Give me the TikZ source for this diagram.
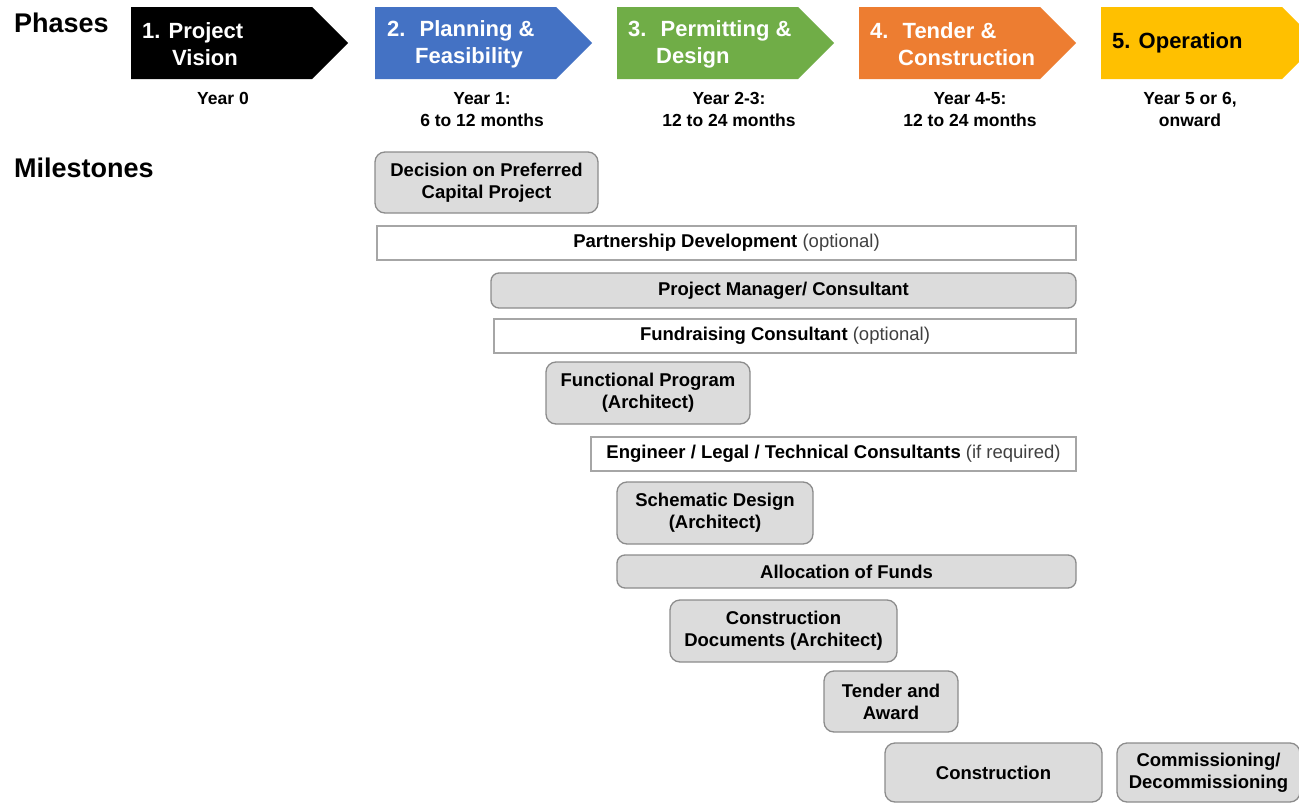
\documentclass[tikz,border=0pt]{standalone}
\usepackage{fontspec}
\setmainfont{Liberation Sans}
\definecolor{pblue}{RGB}{68,114,196}
\definecolor{pgreen}{RGB}{112,173,71}
\definecolor{porange}{RGB}{237,125,49}
\definecolor{pyellow}{RGB}{255,192,0}
\definecolor{boxgray}{RGB}{220,220,220}
\definecolor{boxline}{RGB}{140,140,140}
\definecolor{wline}{RGB}{166,166,166}
\definecolor{opt}{RGB}{64,64,64}
\newcommand{\phasearrow}[2]{\fill[#2] (#1,7) -- ++(181,0) -- ++(36,36) -- ++(-36,36) -- ++(-181,0) -- cycle;}
\tikzset{
 phasetext/.style={anchor=west, inner sep=0pt, align=left, font=\bfseries\fontsize{22}{27}\selectfont, text=white},
 yeartext/.style={anchor=north, inner sep=0pt, align=center, font=\bfseries\fontsize{17.5}{22}\selectfont},
 grbox/.style={draw=boxline, fill=boxgray, line width=1.3pt, rounded corners=10pt, align=center, inner sep=0pt, font=\bfseries\fontsize{18.5}{22}\selectfont},
 whbox/.style={draw=wline, fill=white, line width=1.2pt, align=center, inner sep=0pt, font=\bfseries\fontsize{18.5}{22}\selectfont},
 heading/.style={anchor=base west, inner sep=0pt, font=\bfseries\fontsize{27}{32}\selectfont},
}
\begin{document}
\begin{tikzpicture}[x=1pt,y=-1pt]
\useasboundingbox (0,0) rectangle (1299,803);
\fill[white] (0,0) rectangle (1299,803);
\node[heading] (phases) at (14,32) {Phases};
\node[heading] (milestones) at (14,177) {Milestones};
% phase arrows
\phasearrow{131}{black}
\phasearrow{375}{pblue}
\phasearrow{617}{pgreen}
\phasearrow{859}{porange}
\begin{scope}
\clip (0,0) rectangle (1299,803);
\phasearrow{1101}{pyellow}
\end{scope}
\node[phasetext] (p1) at (142,44) {1. Project\\\hspace*{30pt}Vision};
\node[phasetext] (p2) at (387,44) {2.\hspace{6pt} Planning \&\\\hspace*{28pt}Feasibility};
\node[phasetext] (p3) at (628,44) {3.\hspace{6pt} Permitting \&\\\hspace*{28pt}Design};
\node[phasetext] (p4) at (870,44) {4.\hspace{6pt} Tender \&\\\hspace*{28pt}Construction};
\node[phasetext, text=black] (p5) at (1112,43) {5. Operation};
% years
\node[yeartext] (y0) at (223,92) {Year 0};
\node[yeartext] (y1) at (482,92) {Year 1:\\6 to 12 months};
\node[yeartext] (y2) at (729,92) {Year 2-3:\\12 to 24 months};
\node[yeartext] (y3) at (970,92) {Year 4-5:\\12 to 24 months};
\node[yeartext] (y4) at (1190,92) {Year 5 or 6,\\onward};
% milestones
\node[grbox, minimum width=223pt, minimum height=61pt] (decision) at (486.5,182.5) {Decision on Preferred\\Capital Project};
\node[whbox, minimum width=699pt, minimum height=34pt] (partner) at (726.5,243) {Partnership Development {\mdseries\color{opt}(optional)}};
\node[grbox, rounded corners=8pt, minimum width=585pt, minimum height=35pt] (pm) at (783.5,290.5) {Project Manager/ Consultant};
\node[whbox, minimum width=582pt, minimum height=34pt] (fund) at (785,336) {Fundraising Consultant {\mdseries\color{opt}(optional)}};
\node[grbox, minimum width=204pt, minimum height=62pt] (func) at (648,393) {Functional Program\\(Architect)};
\node[whbox, minimum width=485pt, minimum height=34pt] (eng) at (833.5,454) {Engineer / Legal / Technical Consultants {\mdseries\color{opt}(if required)}};
\node[grbox, minimum width=196pt, minimum height=62pt] (schem) at (715,513) {Schematic Design\\(Architect)};
\node[grbox, rounded corners=8pt, minimum width=459pt, minimum height=33pt] (alloc) at (846.5,571.5) {Allocation of Funds};
\node[grbox, minimum width=227pt, minimum height=62pt] (cdocs) at (783.5,631) {Construction\\Documents (Architect)};
\node[grbox, minimum width=134pt, minimum height=61pt] (tender) at (891,701.5) {Tender and\\Award};
\node[grbox, minimum width=217pt, minimum height=59pt] (constr) at (993.5,772.5) {Construction};
\node[grbox, minimum width=183pt, minimum height=59pt] (comm) at (1208.5,772.5) {Commissioning/\\Decommissioning};
\end{tikzpicture}
\end{document}
